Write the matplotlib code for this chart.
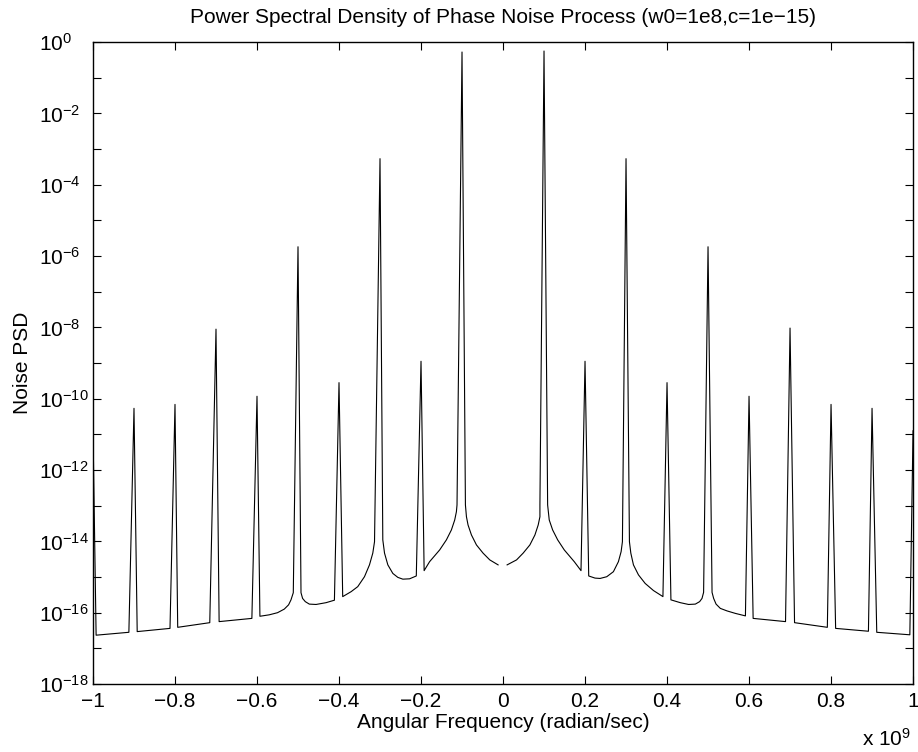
import matplotlib
matplotlib.use('Agg')
import matplotlib.pyplot as plt
from matplotlib.ticker import FixedLocator, FixedFormatter, NullLocator

# angular frequency in units of 1e9 rad/s, noise PSD
freq_left = [-1.0, -0.9924, -0.9125, -0.9, -0.8922, -0.8122, -0.8, -0.7934,
             -0.7152, -0.7, -0.6924, -0.6125, -0.6, -0.5929, -0.5702, -0.5499,
             -0.5335, -0.523, -0.5171, -0.5132, -0.5115, -0.5, -0.4927, -0.4888,
             -0.4822, -0.4724, -0.456, -0.4315, -0.4112, -0.4, -0.391, -0.3704,
             -0.3543, -0.3379, -0.3257, -0.3176, -0.3134, -0.3, -0.2932, -0.289,
             -0.2809, -0.2687, -0.2565, -0.2443, -0.2279, -0.2115, -0.2, -0.1924,
             -0.1791, -0.1545, -0.1381, -0.1259, -0.1178, -0.1137, -0.1122, -0.1,
             -0.0917, -0.0892, -0.0853, -0.077, -0.0648, -0.0487, -0.0323, -0.012]
psd_left = [1.32e-11, 2.34e-17, 2.82e-17, 5.37e-11, 2.95e-17, 3.63e-17, 6.92e-11, 3.89e-17,
            5.25e-17, 8.91e-9, 5.62e-17, 6.92e-17, 1.17e-10, 7.94e-17, 8.71e-17, 1.0e-16,
            1.26e-16, 1.66e-16, 2.29e-16, 3.16e-16, 3.63e-16, 1.82e-6, 3.63e-16, 2.51e-16,
            2.04e-16, 1.74e-16, 1.70e-16, 1.91e-16, 2.24e-16, 2.82e-10, 2.82e-16, 3.89e-16,
            5.37e-16, 1.02e-15, 2.19e-15, 4.68e-15, 9.77e-15, 5.37e-4, 1.10e-14, 4.68e-15,
            2.19e-15, 1.26e-15, 9.77e-16, 8.71e-16, 8.91e-16, 1.07e-15, 1.12e-9, 1.51e-15,
            2.69e-15, 5.75e-15, 1.10e-14, 2.09e-14, 3.98e-14, 6.76e-14, 1.05e-13, 0.525,
            1.05e-13, 4.90e-14, 2.88e-14, 1.51e-14, 7.94e-15, 4.68e-15, 3.02e-15, 2.19e-15]

freq_right = [0.01, 0.033, 0.0491, 0.0655, 0.0778, 0.0858, 0.09, 0.09, 0.1, 0.1088,
              0.1127, 0.121, 0.1333, 0.1494, 0.1738, 0.1902, 0.2, 0.209, 0.2244,
              0.2367, 0.253, 0.2692, 0.2814, 0.288, 0.2912, 0.3, 0.3083, 0.3117,
              0.3181, 0.3303, 0.3467, 0.367, 0.3834, 0.39, 0.4, 0.4095, 0.4323,
              0.4526, 0.469, 0.4795, 0.4853, 0.4892, 0.5, 0.5098, 0.5137, 0.5196,
              0.53, 0.5465, 0.5667, 0.5912, 0.6, 0.61, 0.689, 0.7, 0.711, 0.791,
              0.8, 0.8112, 0.8912, 0.9, 0.9115, 0.9922, 1.0]
psd_right = [2.19e-15, 3.02e-15, 4.68e-15, 7.94e-15, 1.51e-14, 2.88e-14, 4.90e-14, 1.05e-13, 0.56, 1.05e-13,
             3.98e-14, 2.09e-14, 1.10e-14, 5.75e-15, 2.69e-15, 1.51e-15, 1.12e-9, 1.07e-15, 9.33e-16,
             9.12e-16, 1.02e-15, 1.41e-15, 2.69e-15, 5.13e-15, 9.77e-15, 5.37e-4, 9.77e-15, 4.68e-15,
             2.19e-15, 1.15e-15, 6.61e-16, 4.17e-16, 3.16e-16, 2.82e-16, 2.82e-10, 2.29e-16, 1.91e-16,
             1.70e-16, 1.74e-16, 2.04e-16, 2.51e-16, 3.72e-16, 1.82e-6, 3.72e-16, 2.51e-16, 1.74e-16,
             1.32e-16, 1.12e-16, 9.55e-17, 8.13e-17, 1.17e-10, 6.92e-17, 5.62e-17, 9.55e-9, 5.25e-17,
             3.89e-17, 6.92e-11, 3.63e-17, 3.02e-17, 5.37e-11, 2.82e-17, 2.40e-17, 1.26e-11]

x_ticks = [-1, -0.8, -0.6, -0.4, -0.2, 0, 0.2, 0.4, 0.6, 0.8, 1]
x_tick_labels = ['\u22121', '\u22120.8', '\u22120.6', '\u22120.4', '\u22120.2', '0',
                 '0.2', '0.4', '0.6', '0.8', '1']
y_ticks = [10.0 ** -k for k in range(0, 19)]
y_tick_labels = ['$10^{%d}$' % -k if k % 2 == 0 else '' for k in range(0, 19)]

plt.rcParams['font.family'] = ['Liberation Sans', 'DejaVu Sans']
plt.rcParams['mathtext.fontset'] = 'custom'
plt.rcParams['mathtext.rm'] = 'Liberation Sans'
plt.rcParams['mathtext.it'] = 'Liberation Sans:italic'
plt.rcParams['mathtext.bf'] = 'Liberation Sans:bold'

fs = 15

fig = plt.figure(figsize=(9.18, 7.52), dpi=100)
ax = fig.add_axes([0.1013, 0.0904, 0.8933, 0.8537])

ax.plot(freq_left, psd_left, color='black', linewidth=0.8)
ax.plot(freq_right, psd_right, color='black', linewidth=0.8)

ax.set_yscale('log')
ax.set_xlim(-1, 1)
ax.set_ylim(1e-18, 1)

ax.xaxis.set_major_locator(FixedLocator(x_ticks))
ax.xaxis.set_major_formatter(FixedFormatter(x_tick_labels))
ax.yaxis.set_major_locator(FixedLocator(y_ticks))
ax.yaxis.set_major_formatter(FixedFormatter(y_tick_labels))
ax.yaxis.set_minor_locator(NullLocator())

ax.tick_params(direction='in', top=True, right=True, length=6, width=0.8,
               labelsize=fs)
ax.tick_params(axis='x', pad=6)
# MATLAB puts the "10" of every log label at the same x, exponents run right
ax.tick_params(axis='y', pad=39)
for lab in ax.get_yticklabels():
    lab.set_horizontalalignment('left')
for s in ax.spines.values():
    s.set_linewidth(1.0)

ax.set_title('Power Spectral Density of Phase Noise Process (w0=1e8,c=1e\u221215)',
             fontsize=fs, pad=14)
ax.set_xlabel('Angular Frequency (radian/sec)', fontsize=fs, labelpad=1)
ax.set_ylabel('Noise PSD', fontsize=fs)
ax.yaxis.set_label_coords(-0.074, 0.5)
fig.text(0.939, 0.008, 'x $10^{9}$', fontsize=fs)

fig.savefig('out.png', dpi=100)
